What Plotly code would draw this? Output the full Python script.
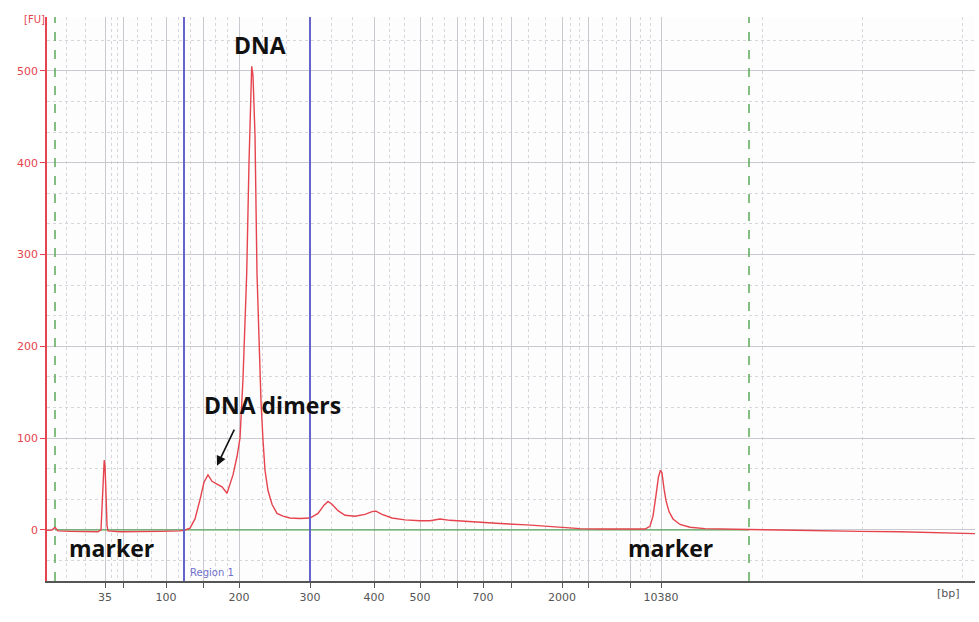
import plotly.graph_objects as go

# Electropherogram (migration time in s vs fluorescence units)
time_s = [40.0, 40.5, 40.8, 41.1, 42.3, 43.8, 45.1, 45.4, 45.55, 45.65, 45.72, 45.8, 45.85, 45.93, 46.0, 46.1,
          47.3, 49.3, 51.3, 53.3, 53.8, 54.3, 54.8, 55.3, 55.7, 56.1, 56.5, 57.0, 57.5, 58.0, 58.3, 58.6, 59.0,
          59.3, 59.6, 59.97, 60.2, 60.35, 60.47, 60.6, 60.8, 61.0, 61.2, 61.4, 61.6, 61.8, 62.1, 62.5, 63.0,
          63.6, 64.3, 65.3, 66.3, 67.1, 67.7, 68.1, 68.5, 69.1, 69.8, 70.8, 71.8, 72.5, 72.9, 73.5, 74.5, 75.8,
          77.3, 78.3, 79.3, 80.3, 81.8, 83.7, 85.3, 88.0, 89.8, 91.3, 93.3, 95.3, 98.3, 99.8, 100.3, 100.6,
          100.9, 101.15, 101.35, 101.5, 101.7, 101.9, 102.2, 102.6, 103.3, 104.3, 105.8, 107.3, 110.2, 113.3,
          117.3, 121.3, 125.3, 129.3, 131.3, 132.8]
fluor = [-0.5, 0.0, 3.0, -1.0, -1.5, -2.0, -2.0, 0.0, 30.0, 65.0, 76.0, 70.0, 40.0, 30.0, 5.0, -1.0,
         -2.0, -2.0, -1.5, -1.0, 0.0, 2.0, 12.0, 33.0, 52.0, 60.0, 53.0, 50.0, 47.0, 40.0, 50.0, 60.0, 80.0,
         100.0, 165.0, 279.0, 400.0, 480.0, 505.0, 495.0, 430.0, 279.0, 200.0, 140.0, 98.0, 65.0, 43.0, 28.0, 18.0,
         15.0, 13.0, 12.5, 13.0, 18.0, 27.0, 31.0, 28.0, 21.0, 16.0, 15.0, 17.0, 20.0, 20.5, 17.0, 13.0, 11.0,
         10.0, 10.0, 12.0, 10.5, 9.5, 8.0, 7.0, 5.5, 4.0, 3.0, 1.5, 1.0, 1.0, 1.0, 4.0, 15.0,
         38.0, 58.0, 65.0, 62.0, 45.0, 32.0, 20.0, 12.0, 6.0, 3.0, 1.5, 1.0, 0.5, 0.0,
         -1.0, -1.5, -2.0, -3.0, -3.5, -4.0]

# Ladder: fragment size (bp) and its migration time (s)
ladder_bp = [35, 50, 100, 150, 200, 300, 400, 500, 600, 700, 1000, 2000, 3000, 7000, 10380]
ladder_time = [45.8, 47.6, 51.9, 55.6, 59.2, 66.3, 72.7, 77.3, 81.0, 83.6, 86.4, 91.5, 94.1, 98.3, 101.4]
labeled_bp = [35, 100, 200, 300, 400, 500, 700, 2000, 10380]

lower_marker_time = 40.8
upper_marker_time = 110.2
region_start_time = 53.7
region_end_time = 66.3

y_ticks = [0, 100, 200, 300, 400, 500]

tick_text = [str(b) if b in labeled_bp else "" for b in ladder_bp]

# dotted minor grid: thirds between ladder positions, sparse beyond
pts = [40.0] + ladder_time
minor_x = []
for a, b in zip(pts[:-1], pts[1:]):
    minor_x += [a + (b - a) / 3, a + 2 * (b - a) / 3]
minor_x += [111.5, 121.5, 131.5]

fig = go.Figure()
fig.add_trace(go.Scatter(x=[lower_marker_time, upper_marker_time], y=[0, 0], mode="lines",
                         line=dict(color="#3c9c3c", width=1), hoverinfo="skip", showlegend=False))
fig.add_trace(go.Scatter(x=time_s, y=fluor, mode="lines",
                         line=dict(color="#e5444e", width=1.4), showlegend=False))

for t in [region_start_time, region_end_time]:
    fig.add_vline(x=t, line=dict(color="#6464cc", width=2))
for t in [lower_marker_time, upper_marker_time]:
    fig.add_vline(x=t, line=dict(color="#5aa95a", width=1.5, dash="dash"))

bold = dict(family="Open Sans", size=23, color="#111111")
fig.add_annotation(x=61.3, y=528, text="<b>DNA</b>", showarrow=False, font=bold)
fig.add_annotation(x=62.5, y=136, text="<b>DNA dimers</b>", showarrow=False, font=bold)
fig.add_annotation(x=46.4, y=-20, text="<b>marker</b>", showarrow=False, font=bold)
fig.add_annotation(x=102.3, y=-20, text="<b>marker</b>", showarrow=False, font=bold)
fig.add_annotation(x=57.0, y=70, ax=58.8, ay=111, axref="x", ayref="y", text="",
                   showarrow=True, arrowhead=2, arrowsize=1.2, arrowwidth=1.6, arrowcolor="#111111")
fig.add_annotation(x=54.1, y=-46, text="Region 1", showarrow=False, xanchor="left",
                   font=dict(family="DejaVu Sans", size=10, color="#7070cc"))
fig.add_annotation(xref="paper", yref="paper", x=-0.027, y=1.009, text="[FU]", showarrow=False,
                   font=dict(family="DejaVu Sans", size=10, color="#e5444e"))
fig.add_annotation(xref="paper", yref="paper", x=0.986, y=-0.037, text="[bp]", showarrow=False,
                   font=dict(family="DejaVu Sans", size=11, color="#555555"))

fig.update_layout(
    width=979, height=622,
    margin=dict(l=47, r=4, t=17, b=41),
    paper_bgcolor="#ffffff", plot_bgcolor="#fdfdfd",
    showlegend=False,
    xaxis=dict(range=[40, 132.8], tickmode="array", tickvals=ladder_time, ticktext=tick_text,
               ticks="outside", ticklen=5, tickcolor="#555555",
               showgrid=True, gridcolor="#c9c9cf", gridwidth=1, zeroline=False,
               showline=True, linecolor="#555555", linewidth=1.5,
               tickfont=dict(family="DejaVu Sans", size=11, color="#555555"),
               minor=dict(tickmode="array", tickvals=minor_x, showgrid=True, griddash="dot",
                          gridcolor="#d6d6dc", ticks="")),
    yaxis=dict(range=[-55.6, 558.8], tickmode="array", tickvals=y_ticks,
               ticks="outside", ticklen=5, tickcolor="#e5444e",
               showgrid=True, gridcolor="#c9c9cf", gridwidth=1, zeroline=False,
               showline=True, linecolor="#e5444e", linewidth=1.5,
               tickfont=dict(family="DejaVu Sans", size=11, color="#e5444e"),
               minor=dict(tick0=0, dtick=100 / 3, showgrid=True, griddash="dot",
                          gridcolor="#d6d6dc", ticks="")),
)

fig.write_html("out.html")
